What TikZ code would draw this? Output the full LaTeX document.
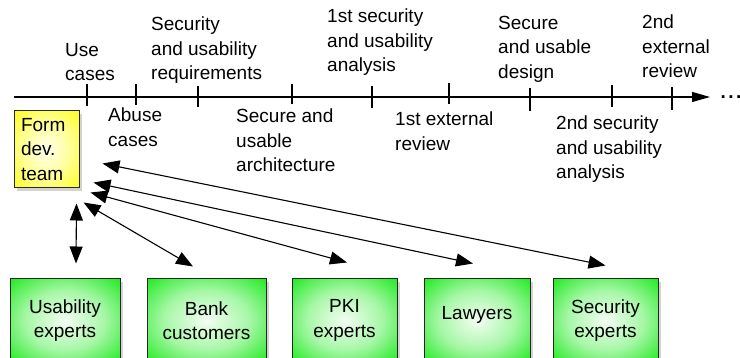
\documentclass[tikz,border=0pt]{standalone}
\usepackage{fontspec}
\setmainfont{Liberation Sans}
\usetikzlibrary{arrows.meta,shadows}

\definecolor{boxgreen}{RGB}{0,232,0}
\definecolor{boxyellow}{RGB}{255,255,0}
\pgfdeclareradialshading{greenglow}{\pgfpoint{0bp}{0bp}}{color(0bp)=(boxgreen!5!white); color(18bp)=(boxgreen!35!white); color(40bp)=(boxgreen); color(50bp)=(boxgreen)}
\pgfdeclareradialshading{yellowglow}{\pgfpoint{0bp}{0bp}}{color(0bp)=(boxyellow!8!white); color(18bp)=(boxyellow!40!white); color(40bp)=(boxyellow); color(50bp)=(boxyellow)}

\begin{document}
\begin{tikzpicture}[x=1pt,y=1pt,
        every node/.style={font=\fontsize{19}{24.5}\selectfont},
        stage/.style={anchor=north west, align=left, inner sep=0pt},
        crowd/.style={draw=black!85, line width=1pt, shading=greenglow, drop shadow={shadow xshift=3pt, shadow yshift=-3pt, opacity=.35}, align=center, minimum height=83pt, inner sep=0pt},
        teambox/.style={draw=black!85, line width=1pt, shading=yellowglow, drop shadow={shadow xshift=3pt, shadow yshift=-3pt, opacity=.35}, align=left, text width=51pt, minimum width=65pt, minimum height=77pt, inner sep=0pt},
        link/.style={{Triangle[length=17pt,width=13pt]}-{Triangle[length=17pt,width=13pt]}, line width=1.1pt}]
    \useasboundingbox (0,0) rectangle (740,358);

    % time line
    \draw [line width=1.1pt, -{Triangle[length=18pt,width=10pt]}] (14,261) -- (710,261);
    \foreach \x/\a/\b in {87/274/252, 136/274/253, 198/272/251, 292/274/254, 372/272/250, 449/275/254, 530/270/247, 612/273/251, 672/271/248}
        \draw [line width=1.1pt] (\x,\a) -- (\x,\b);
    \node [anchor=base, inner sep=0pt] (more) at (731,259) {\textbf{.\kern2.5pt.\kern2.5pt.}};

    % stages above
    \node [stage] (usecases) at (65,315) {Use\\cases};
    \node [stage] (reqs) at (151,341) {Security\\and usability\\requirements};
    \node [stage] (analysis1) at (327,349) {1st security\\and usability\\analysis};
    \node [stage] (design) at (498,342) {Secure\\and usable\\design};
    \node [stage] (review2) at (642,343) {2nd\\external\\review};

    % stages below
    \node [stage] (abuse) at (108,250) {Abuse\\cases};
    \node [stage] (arch) at (236,249) {Secure and\\usable\\architecture};
    \node [stage] (review1) at (395,246) {1st external\\review};
    \node [stage] (analysis2) at (556,242) {2nd security\\and usability\\analysis};

    % team and the people it talks to
    \node [teambox] (team) at (46.5,208.5) {Form\\dev.\\team};

    \node [crowd, minimum width=110pt] (usab) at (65,37.5) {Usability\\experts};
    \node [crowd, minimum width=119pt] (bank) at (206.5,37.5) {Bank\\customers};
    \node [crowd, minimum width=105pt] (pki) at (344.5,37.5) {PKI\\experts};
    \node [crowd, minimum width=106pt, text depth=15pt] (law) at (477,37.5) {Lawyers};
    \node [crowd, minimum width=105pt] (secx) at (605.5,37.5) {Security\\experts};

    \draw [link] ([shift={(-3,-15)}]team.south east) -- ([shift={(11,15)}]usab.north);
    \draw [link] ([shift={(4,-14)}]team.south east) -- ([shift={(-13.5,12)}]bank.north);
    \draw [link] ([shift={(11,-4)}]team.south east) -- ([shift={(2.5,16)}]pki.north);
    \draw [link] ([shift={(14,6)}]team.south east) -- ([shift={(-4,15)}]law.north);
    \draw [link] ([shift={(23,25)}]team.south east) -- ([shift={(0,13)}]secx.north);
\end{tikzpicture}
\end{document}
